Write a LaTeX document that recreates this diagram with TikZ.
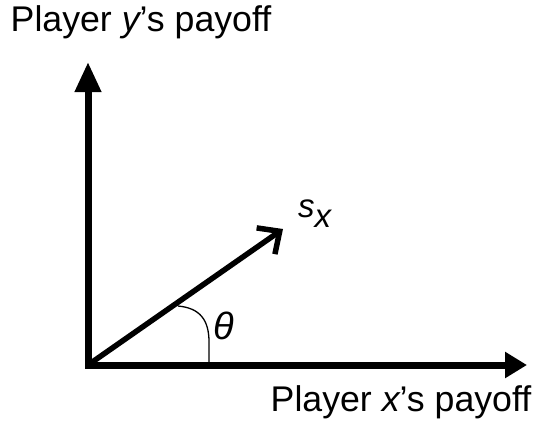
\documentclass[tikz,border=0pt]{standalone}
\usepackage{fontspec}
\setmainfont{Liberation Sans}
\usetikzlibrary{arrows.meta}
\begin{document}
\begin{tikzpicture}[x=1pt,y=-1pt,
  axis/.style={line width=7pt,line cap=rect},
  vec/.style={line width=5.5pt,-{Straight Barb[length=17pt,width=32pt,line width=5.5pt]}},
  lbl/.style={inner sep=0pt,font=\fontsize{35.7}{42}\selectfont},
  sym/.style={inner sep=0pt,font=\fontsize{33}{38}\selectfont\itshape}]
\useasboundingbox (0,0) rectangle (535,421);
\coordinate (O) at (88,365);
\coordinate (Ytip) at (88,62);
\coordinate (Xtip) at (527,365);
\coordinate (Stip) at (283,229);
\coordinate (A1) at (178,306);
\coordinate (A2) at (209,362);
\draw[axis,-{Triangle[length=30pt,width=25pt]}] (O) -- (Ytip);
\draw[axis,-{Triangle[length=22pt,width=25pt]}] (O) -- (Xtip);
\draw[vec] (O) -- (Stip);
\draw[line width=1.3pt] (A1) .. controls (200,308) and (209,320) .. (209,342) -- (A2);
\node[lbl,anchor=base west] (ylab) at (10.5,31) {Player {\itshape y}’s payoff};
\node[lbl,anchor=base west] (xlab) at (270.5,411) {Player {\itshape x}’s payoff};
\node[sym,font=\fontsize{38}{44}\selectfont\itshape] (th) at (224,326) {θ};
\node[sym,anchor=base west] (s) at (298,217) {s\raisebox{-10pt}{x}};
\end{tikzpicture}
\end{document}
